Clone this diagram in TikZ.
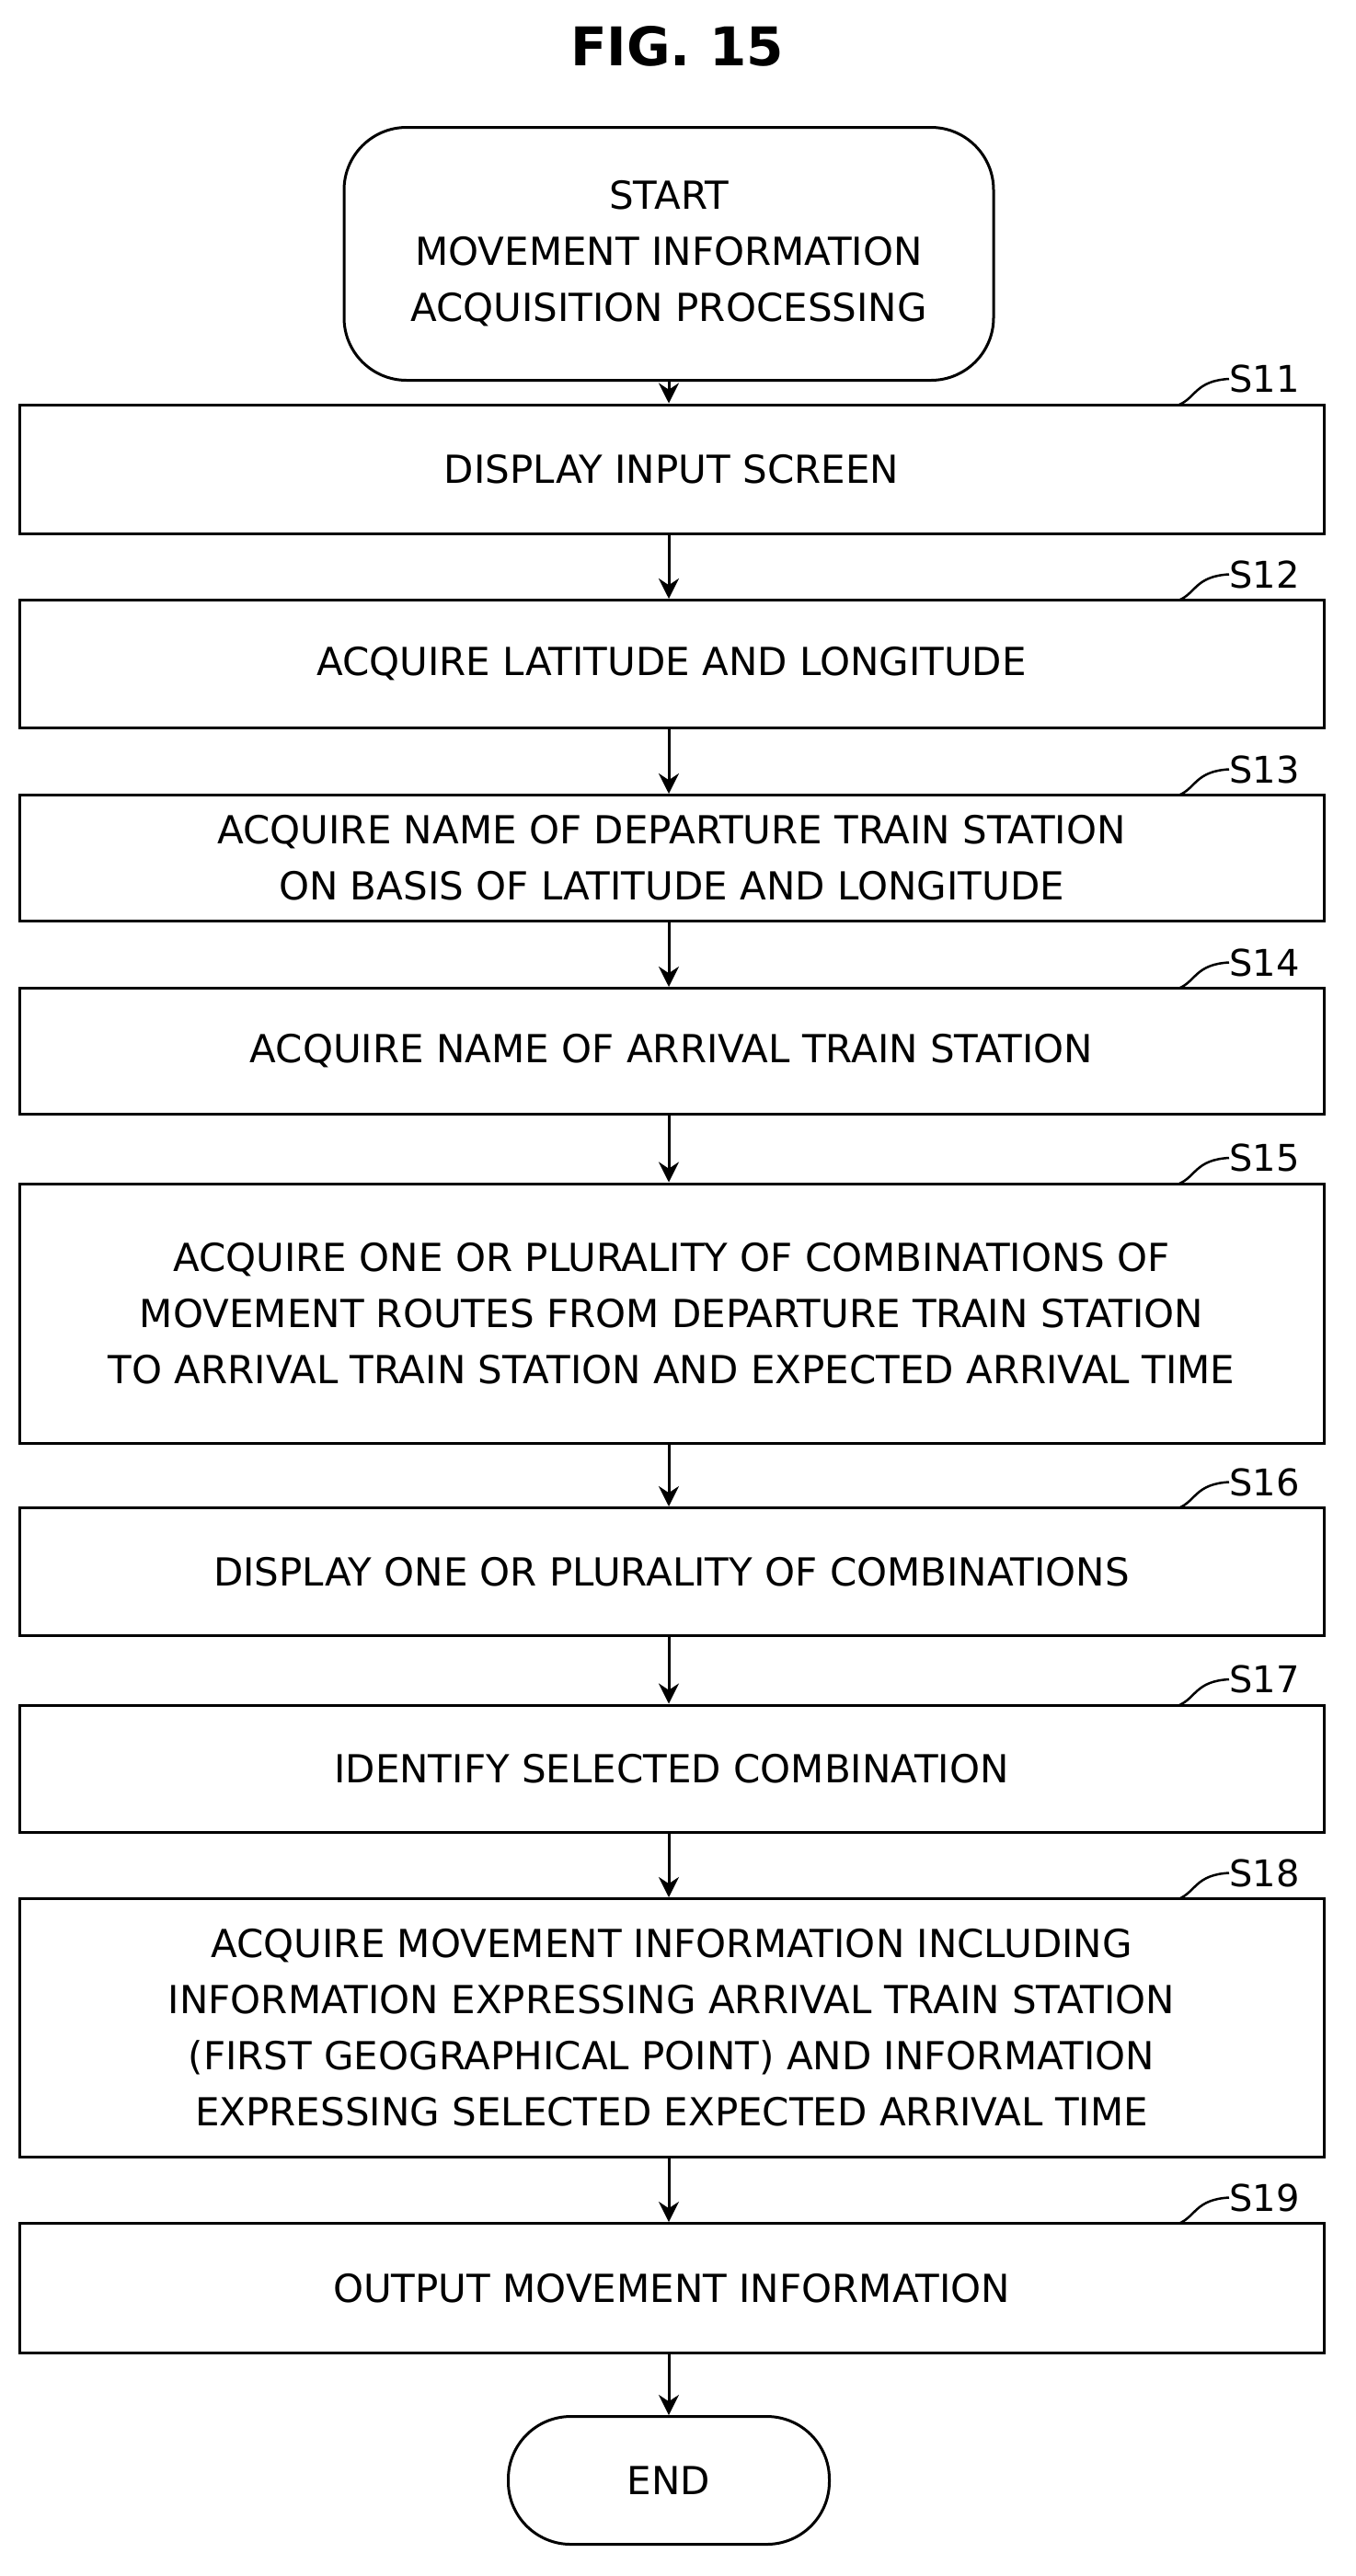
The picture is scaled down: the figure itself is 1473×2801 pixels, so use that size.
\documentclass[tikz,border=0pt]{standalone}
\usepackage{fontspec}
\setmainfont{DejaVu Sans}
\usetikzlibrary{arrows.meta}
\begin{document}
\begin{tikzpicture}[x=1pt,y=-1pt,
  box/.style={draw,line width=3pt,align=center,font=\fontsize{42}{61}\selectfont,inner sep=0pt},
  term/.style={box,rounded corners=68pt},
  lab/.style={font=\fontsize{40}{48}\selectfont,anchor=west,inner sep=0pt},
  arr/.style={line width=3pt,-{Stealth[length=22pt,width=22pt]}}]
\useasboundingbox (0,0) rectangle (1473,2801);
\node[font=\bfseries\fontsize{58}{64}\selectfont] (title) at (736,50) {FIG. 15};
\node[term,minimum width=706pt,minimum height=275pt] (start) at (727,276) {START\\MOVEMENT INFORMATION\\ACQUISITION PROCESSING};
\newcommand\stepb[5]{%
  \node[box,minimum width=1418pt,minimum height=#3pt] (#1) at (730,#2) {#4};
  \coordinate (#1c) at (1282,#2-#3/2);
  \node[lab] (#1l) at (1336,#2-#3/2-28) {#5};
  \draw[line width=2.5pt] (#1c) .. controls (1300,#2-#3/2-8) and (1300,#2-#3/2-26) .. (#1l.west);
}
\stepb{s11}{510}{140}{DISPLAY INPUT SCREEN}{S11}
\stepb{s12}{722}{139}{ACQUIRE LATITUDE AND LONGITUDE}{S12}
\stepb{s13}{933}{137}{ACQUIRE NAME OF DEPARTURE TRAIN STATION\\ON BASIS OF LATITUDE AND LONGITUDE}{S13}
\stepb{s14}{1143}{137}{ACQUIRE NAME OF ARRIVAL TRAIN STATION}{S14}
\stepb{s15}{1428}{282}{ACQUIRE ONE OR PLURALITY OF COMBINATIONS OF\\MOVEMENT ROUTES FROM DEPARTURE TRAIN STATION\\TO ARRIVAL TRAIN STATION AND EXPECTED ARRIVAL TIME}{S15}
\stepb{s16}{1709}{139}{DISPLAY ONE OR PLURALITY OF COMBINATIONS}{S16}
\stepb{s17}{1923}{138}{IDENTIFY SELECTED COMBINATION}{S17}
\stepb{s18}{2205}{281}{ACQUIRE MOVEMENT INFORMATION INCLUDING\\INFORMATION EXPRESSING ARRIVAL TRAIN STATION\\(FIRST GEOGRAPHICAL POINT) AND INFORMATION\\EXPRESSING SELECTED EXPECTED ARRIVAL TIME}{S18}
\stepb{s19}{2488}{141}{OUTPUT MOVEMENT INFORMATION}{S19}
\node[term,minimum width=349pt,minimum height=139pt] (end) at (727,2697) {END};
\draw[arr] (start.south -| 727,0) -- (s11.north -| 727,0);
\draw[arr] (s11.south -| 727,0) -- (s12.north -| 727,0);
\draw[arr] (s12.south -| 727,0) -- (s13.north -| 727,0);
\draw[arr] (s13.south -| 727,0) -- (s14.north -| 727,0);
\draw[arr] (s14.south -| 727,0) -- (s15.north -| 727,0);
\draw[arr] (s15.south -| 727,0) -- (s16.north -| 727,0);
\draw[arr] (s16.south -| 727,0) -- (s17.north -| 727,0);
\draw[arr] (s17.south -| 727,0) -- (s18.north -| 727,0);
\draw[arr] (s18.south -| 727,0) -- (s19.north -| 727,0);
\draw[arr] (s19.south -| 727,0) -- (end.north);
\end{tikzpicture}
\end{document}
